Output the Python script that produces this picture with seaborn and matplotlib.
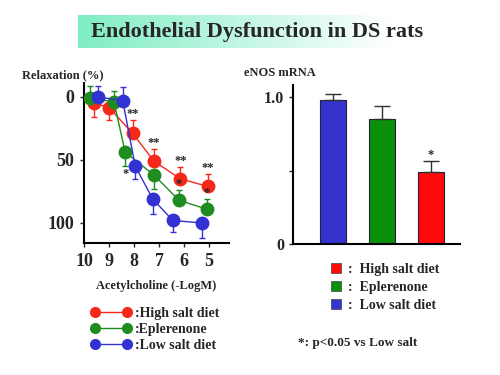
import numpy as np
import pandas as pd
import seaborn as sns
import matplotlib.pyplot as plt
from matplotlib.lines import Line2D

# ---- data ----
groups = ['High salt diet', 'Eplerenone', 'Low salt diet']
colors = ['#f5281a', '#1e8c1e', '#3232d2']

# relaxation curves (x = -log M acetylcholine, y = relaxation %)
red_x = [9.6, 9.0, 8.05, 7.2, 6.15, 5.05]
red_y = [5, 8.5, 29, 51, 65, 71]
red_err = [11, 10, 11, 10, 9, 10]
red_dir = ['down', 'down', 'up', 'up', 'up', 'up']
red_sig = ['', '', '**', '**', '**', '**']

green_x = [9.75, 8.8, 8.35, 7.2, 6.2, 5.1]
green_y = [1, 4, 44, 62, 82, 89]
green_err = [10, 9, 11, 11, 8, 8]
green_dir = ['up', 'up', 'down', 'down', 'up', 'up']
green_sig = ['', '', '*', '', '*', '*']

blue_x = [9.45, 8.45, 7.95, 7.25, 6.45, 5.3]
blue_y = [0, 3, 55, 81, 98, 100]
blue_err = [9, 11, 10, 12, 9, 12]
blue_dir = ['up', 'up', 'down', 'down', 'down', 'down']
blue_sig = ['', '', '', '', '', '']

# eNOS mRNA bars
bar_groups = ['Low salt diet', 'Eplerenone', 'High salt diet']
bar_vals = [0.98, 0.85, 0.49]
bar_err = [0.04, 0.09, 0.075]
bar_sig = ['', '', '*']
bar_colors = ['#3434cc', '#0a8f0a', '#ff0a0a']

sns.set_style('white')
plt.rcParams['font.family'] = ['Liberation Serif', 'DejaVu Serif']
plt.rcParams['font.weight'] = 'bold'

fig = plt.figure(figsize=(5, 3.75), dpi=100)
fig.patch.set_facecolor('white')

# title box with mint gradient
tax = fig.add_axes([0.156, 0.872, 0.63, 0.088])
grad = np.linspace(0, 1, 256)
cols = np.zeros((1, 256, 3))
start = np.array([0.50, 0.93, 0.77])
for i in range(3):
    cols[0, :, i] = start[i] + (1 - start[i]) * grad
tax.imshow(cols, aspect='auto', extent=[0, 1, 0, 1])
tax.set_axis_off()
fig.text(0.514, 0.915, 'Endothelial Dysfunction in DS rats', ha='center', va='center',
         fontsize=16, fontweight='bold')

# ---- left panel: relaxation curves ----
ax1 = fig.add_axes([0.168, 0.352, 0.29, 0.427])
series = [
    (red_x, red_y, red_err, red_dir, red_sig),
    (green_x, green_y, green_err, green_dir, green_sig),
    (blue_x, blue_y, blue_err, blue_dir, blue_sig),
]
rows = []
for g, (xs, ys, _, _, _) in zip(groups, series):
    for xv, yv in zip(xs, ys):
        rows.append({'group': g, 'logM': xv, 'relax': yv})
df = pd.DataFrame(rows)

for (xs, ys, errs, dirs, sigs), c in zip(series, colors):
    lo = [e if d == 'up' else 0 for e, d in zip(errs, dirs)]
    hi = [e if d == 'down' else 0 for e, d in zip(errs, dirs)]
    ax1.errorbar(xs, ys, yerr=[lo, hi], fmt='none', ecolor=c, elinewidth=1,
                 capsize=2.5, capthick=1, zorder=2)

sns.lineplot(data=df, x='logM', y='relax', hue='group', palette=colors,
             hue_order=groups, marker='o', markersize=10, markeredgewidth=0,
             linewidth=1, legend=False, ax=ax1, zorder=3)

for (xs, ys, errs, dirs, sigs) in series:
    for xv, yv, e, d, s in zip(xs, ys, errs, dirs, sigs):
        if not s:
            continue
        if d == 'up':
            ax1.annotate(s, (xv, yv - e), xytext=(0, 0), textcoords='offset points',
                         ha='center', va='bottom', fontsize=9, zorder=4)
        else:
            ax1.annotate(s, (xv, yv + e), xytext=(0, -1), textcoords='offset points',
                         ha='center', va='top', fontsize=9, zorder=4)

ax1.set_xlim(10, 4.2)
ax1.set_ylim(115.9, -11.1)
ax1.set_xticks([10, 9, 8, 7, 6, 5])
ax1.set_xticklabels(['10', '9', '8', '7', '6', '5'])
ax1.set_yticks([0, 50, 100])
ax1.set_yticklabels(['0', '50', '100'])
ax1.tick_params(axis='both', labelsize=13, length=3, width=1, direction='out',
                bottom=True, left=True, pad=4)
for lab in ax1.get_xticklabels() + ax1.get_yticklabels():
    lab.set_fontweight('bold')
ax1.set_xlabel('')
ax1.set_ylabel('')
sns.despine(ax=ax1)
for sp in ['left', 'bottom']:
    ax1.spines[sp].set_linewidth(1.5)
    ax1.spines[sp].set_color('black')

fig.text(63 / 500, 1 - 75 / 375, 'Relaxation (%)', ha='center', va='center',
         fontsize=9, fontweight='bold')
fig.text(156 / 500, 1 - 286 / 375, 'Acetylcholine (-LogM)', ha='center', va='center',
         fontsize=9, fontweight='bold')

handles = [Line2D([], [], color=c, marker='o', markersize=7, linewidth=1)
           for c in colors]
fig.legend(handles, [':High salt diet', ':Eplerenone', ':Low salt diet'],
           loc='upper left', bbox_to_anchor=(91 / 500, 1 - 307 / 375),
           numpoints=2, handlelength=2.9, handletextpad=0.25, labelspacing=0.2,
           frameon=False, borderpad=0, borderaxespad=0,
           prop={'family': 'Liberation Serif', 'weight': 'bold', 'size': 10})

# ---- right panel: eNOS mRNA ----
ax2 = fig.add_axes([0.586, 0.349, 0.334, 0.424])
bdf = pd.DataFrame({'group': bar_groups, 'val': bar_vals})
sns.barplot(data=bdf, x='group', y='val', hue='group', palette=bar_colors,
            saturation=1, width=0.53, edgecolor='#202040', linewidth=0.8,
            legend=False, ax=ax2)
ax2.errorbar(range(len(bar_vals)), bar_vals, yerr=[[0] * len(bar_err), bar_err],
             fmt='none', ecolor='#303030', elinewidth=1, capsize=6, capthick=1, zorder=1)
for i, (v, e, s) in enumerate(zip(bar_vals, bar_err, bar_sig)):
    if s:
        ax2.annotate(s, (i, v + e), xytext=(0, 0), textcoords='offset points',
                     ha='center', va='bottom', fontsize=9)
ax2.set_xlim(-0.82, 2.59)
ax2.set_ylim(0, 1.08)
ax2.set_yticks([0, 0.5, 1.0])
ax2.set_yticklabels(['0', '', '1.0'])
ax2.set_xticks([])
ax2.tick_params(axis='y', labelsize=11.5, length=3, width=1, direction='out', left=True)
for lab in ax2.get_yticklabels():
    lab.set_fontweight('bold')
ax2.set_xlabel('')
ax2.set_ylabel('')
sns.despine(ax=ax2)
for sp in ['left', 'bottom']:
    ax2.spines[sp].set_linewidth(1.5)
    ax2.spines[sp].set_color('black')

fig.text(280 / 500, 1 - 73 / 375, 'eNOS mRNA', ha='center', va='center',
         fontsize=9, fontweight='bold')

sq_handles = [Line2D([], [], color=c, marker='s', markersize=6.5, linestyle='none',
                     markeredgecolor='#404040', markeredgewidth=0.5)
              for c in ['#ff0a0a', '#0a8f0a', '#3434cc']]
fig.legend(sq_handles, [':  High salt diet', ':  Eplerenone', ':  Low salt diet'],
           loc='upper left', bbox_to_anchor=(329 / 500, 1 - 263 / 375),
           handlelength=1, handletextpad=0.4, labelspacing=0.35,
           frameon=False, borderpad=0, borderaxespad=0,
           prop={'family': 'Liberation Serif', 'weight': 'bold', 'size': 10})

fig.text(298 / 500, 1 - 343 / 375, '*: p<0.05 vs Low salt', ha='left', va='center',
         fontsize=9.5, fontweight='bold')

fig.savefig('out.png', dpi=100, facecolor='white')
